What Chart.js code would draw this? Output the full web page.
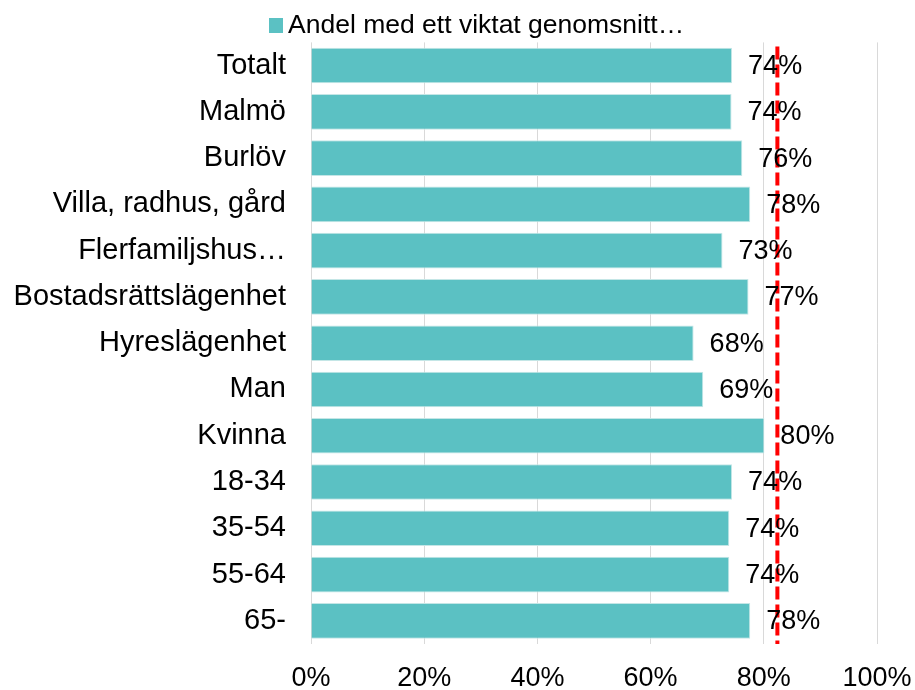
<!DOCTYPE html>
<html>
<head>
<meta charset="utf-8">
<script src="https://cdn.jsdelivr.net/npm/chart.js@4"></script>
<style>
  html, body { margin: 0; padding: 0; background: #fff; }
  #wrap { width: 915px; height: 690px; }
</style>
</head>
<body>
<div id="wrap"><canvas id="barChart"></canvas></div>
<script>
const categories = [
  'Totalt', 'Malmö', 'Burlöv', 'Villa, radhus, gård', 'Flerfamiljshus…',
  'Bostadsrättslägenhet', 'Hyreslägenhet', 'Man', 'Kvinna',
  '18-34', '35-54', '55-64', '65-'
];
const shareValues = [74.4, 74.3, 76.2, 77.6, 72.7, 77.3, 67.6, 69.3, 80.1, 74.4, 73.9, 73.9, 77.6];
const seriesLabel = 'Andel med ett viktat genomsnitt…';
const referenceValue = 82.4;
const xTicks = [0, 20, 40, 60, 80, 100];

const FONT = '"Liberation Sans", Arial, sans-serif';
const BAR_COLOR = '#5bc1c3';

/* -----------------------------
   Value labels, reference line, legend
------------------------------ */
const extrasPlugin = {
  id: 'extras',
  afterDatasetsDraw(chart) {
    const ctx = chart.ctx;
    const meta = chart.getDatasetMeta(0);
    const area = chart.chartArea;
    const x = chart.scales.x;

    // reference line
    const rx = x.getPixelForValue(referenceValue);
    ctx.save();
    ctx.strokeStyle = '#ff0000';
    ctx.lineWidth = 4;
    ctx.setLineDash([13, 5]);
    ctx.beginPath();
    ctx.moveTo(rx, area.top + 4);
    ctx.lineTo(rx, area.bottom);
    ctx.stroke();
    ctx.restore();

    // value labels
    ctx.save();
    ctx.font = '27px ' + FONT;
    ctx.fillStyle = '#000';
    ctx.textAlign = 'left';
    ctx.textBaseline = 'middle';
    meta.data.forEach((bar, i) => {
      ctx.fillText(Math.round(shareValues[i]) + '%', bar.x + 16, bar.y + 1);
    });
    ctx.restore();

    // legend
    ctx.save();
    ctx.fillStyle = BAR_COLOR;
    ctx.fillRect(269, 18, 14, 15);
    ctx.font = '26.5px ' + FONT;
    ctx.fillStyle = '#000';
    ctx.textBaseline = 'alphabetic';
    ctx.fillText(chart.data.datasets[0].label, 288, 33);
    ctx.restore();
  }
};

/* -----------------------------
   Chart
------------------------------ */
const ctx = document.getElementById('barChart').getContext('2d');
new Chart(ctx, {
  type: 'bar',
  data: {
    labels: categories,
    datasets: [{
      label: seriesLabel,
      data: shareValues,
      backgroundColor: BAR_COLOR,
      borderColor: '#c4e6e6',
      borderWidth: 1,
      barPercentage: 0.77,
      categoryPercentage: 1
    }]
  },
  options: {
    indexAxis: 'y',
    responsive: true,
    maintainAspectRatio: false,
    animation: false,
    layout: { padding: { top: 42, right: 38, bottom: 0, left: 0 } },
    plugins: {
      legend: { display: false },
      tooltip: { enabled: false }
    },
    scales: {
      x: {
        min: 0,
        max: 100,
        afterBuildTicks(scale) {
          scale.ticks = xTicks.map(v => ({ value: v }));
        },
        afterFit(scale) {
          scale.height = 46;
          scale.paddingLeft = 0;
          scale.paddingRight = 0;
        },
        grid: { color: '#d9d9d9', lineWidth: 1, drawTicks: false },
        border: { display: false },
        ticks: {
          padding: 18,
          color: '#000',
          font: { family: FONT, size: 27 },
          callback: v => v + '%'
        }
      },
      y: {
        afterFit(scale) { scale.width = 311; },
        grid: { display: false, drawTicks: false },
        border: { display: false },
        ticks: {
          padding: 25,
          color: '#000',
          autoSkip: false,
          font: { family: FONT, size: 29 }
        }
      }
    }
  },
  plugins: [extrasPlugin]
});
</script>
</body>
</html>
